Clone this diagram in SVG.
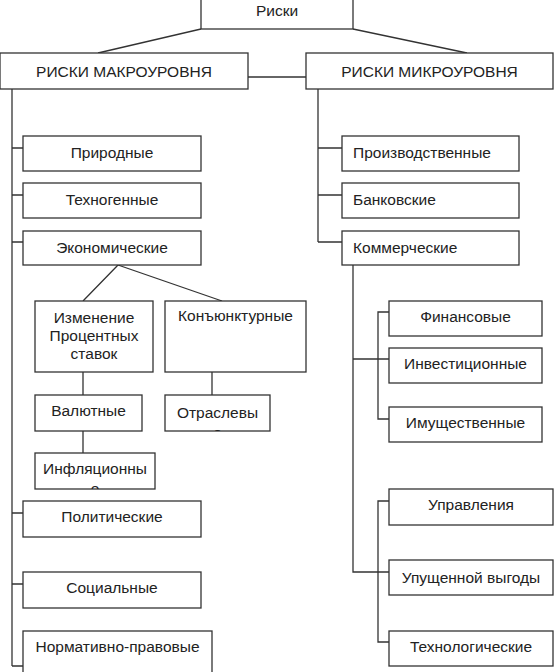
<svg xmlns="http://www.w3.org/2000/svg" width="560" height="672" viewBox="0 0 560 672">
<style>
  .b{fill:#fff;stroke:#333;stroke-width:1.3}
  .t{font-family:"Liberation Sans",Arial,sans-serif;font-size:15.5px;fill:#222}
  .c{text-anchor:middle}
  .l{fill:none;stroke:#333;stroke-width:1.3}
</style>
<defs>
  <clipPath id="clipInf"><rect x="35" y="453" width="120" height="36"/></clipPath>
  <clipPath id="clipOtr"><rect x="165" y="395" width="105" height="36"/></clipPath>
</defs>
<rect width="560" height="672" fill="#fff"/>
<g id="connectors" class="l">
  <path d="M201 29 L98 53"/>
  <path d="M353 29 L467 53"/>
  <path d="M248 77 H306"/>
  <path d="M12 89 V666"/>
  <path d="M12 148 H23 M12 195 H23 M12 242 H23 M12 513 H23 M12 584 H23 M12 666 H23"/>
  <path d="M118 265 L83 301 M118 265 L222 301"/>
  <path d="M83 372 V395 M83 431 V453"/>
  <path d="M212 372 V395"/>
  <path d="M318 89 V242 M318 148 H342 M318 195 H342 M318 242 H342"/>
  <path d="M353 265 V572 H389"/>
  <path d="M353 359 H389"/>
  <path d="M389 312 H378 V419 H389"/>
  <path d="M389 501 H378 V642 H389"/>
</g>
<g id="n-riski"><rect class="b" x="201" y="-2" width="152" height="31"/><text class="t c" x="277" y="15.5">Риски</text></g>
<g id="n-makro"><rect class="b" x="0" y="53" width="248" height="36"/><text class="t c" x="124" y="77">РИСКИ МАКРОУРОВНЯ</text></g>
<g id="n-mikro"><rect class="b" x="306" y="53" width="247" height="36"/><text class="t c" x="429.5" y="77">РИСКИ МИКРОУРОВНЯ</text></g>
<g id="n-prirod"><rect class="b" x="23" y="136" width="178" height="35"/><text class="t c" x="112" y="158">Природные</text></g>
<g id="n-tehno"><rect class="b" x="23" y="183" width="178" height="35"/><text class="t c" x="112" y="205">Техногенные</text></g>
<g id="n-econ"><rect class="b" x="23" y="231" width="178" height="34"/><text class="t c" x="112" y="253">Экономические</text></g>
<g id="n-izm"><rect class="b" x="35" y="301" width="118" height="71"/><text class="t c" x="94" y="322.5">Изменение</text><text class="t c" x="94" y="340.5">Процентных</text><text class="t c" x="94" y="358.5">ставок</text></g>
<g id="n-konj"><rect class="b" x="165" y="301" width="141" height="71"/><text class="t c" x="235.5" y="320.5">Конъюнктурные</text></g>
<g id="n-val"><rect class="b" x="35" y="395" width="107" height="36"/><text class="t c" x="88.5" y="415.5">Валютные</text></g>
<g id="n-otr"><rect class="b" x="165" y="395" width="105" height="36"/><text class="t c" x="217.5" y="417.5">Отраслевы</text><text class="t c" x="217.5" y="437.5" clip-path="url(#clipOtr)">е</text></g>
<g id="n-infl"><rect class="b" x="35" y="453" width="120" height="36"/><text class="t c" x="95" y="473.5">Инфляционны</text><text class="t c" x="95" y="493.5" clip-path="url(#clipInf)">е</text></g>
<g id="n-polit"><rect class="b" x="23" y="501" width="178" height="36"/><text class="t c" x="112" y="521.5">Политические</text></g>
<g id="n-soc"><rect class="b" x="23" y="572" width="178" height="36"/><text class="t c" x="112" y="592.5">Социальные</text></g>
<g id="n-norm"><rect class="b" x="23" y="631" width="189" height="50"/><text class="t c" x="117.5" y="651.5">Нормативно-правовые</text></g>
<g id="n-proizv"><rect class="b" x="342" y="136" width="177" height="35"/><text class="t" x="353" y="158">Производственные</text></g>
<g id="n-bank"><rect class="b" x="342" y="183" width="177" height="35"/><text class="t" x="353" y="205">Банковские</text></g>
<g id="n-komm"><rect class="b" x="342" y="231" width="177" height="34"/><text class="t" x="353" y="253">Коммерческие</text></g>
<g id="n-fin"><rect class="b" x="389" y="301" width="153" height="35"/><text class="t c" x="465.5" y="321.5">Финансовые</text></g>
<g id="n-invest"><rect class="b" x="389" y="348" width="153" height="35"/><text class="t c" x="465.5" y="368.5">Инвестиционные</text></g>
<g id="n-imush"><rect class="b" x="389" y="407" width="153" height="35"/><text class="t c" x="465.5" y="427.5">Имущественные</text></g>
<g id="n-uprav"><rect class="b" x="389" y="489" width="164" height="36"/><text class="t c" x="471" y="509.5">Управления</text></g>
<g id="n-upush"><rect class="b" x="389" y="560" width="164" height="35"/><text class="t c" x="471" y="582.5">Упущенной выгоды</text></g>
<g id="n-tehnol"><rect class="b" x="389" y="631" width="164" height="35"/><text class="t c" x="471" y="651.5">Технологические</text></g>
</svg>
